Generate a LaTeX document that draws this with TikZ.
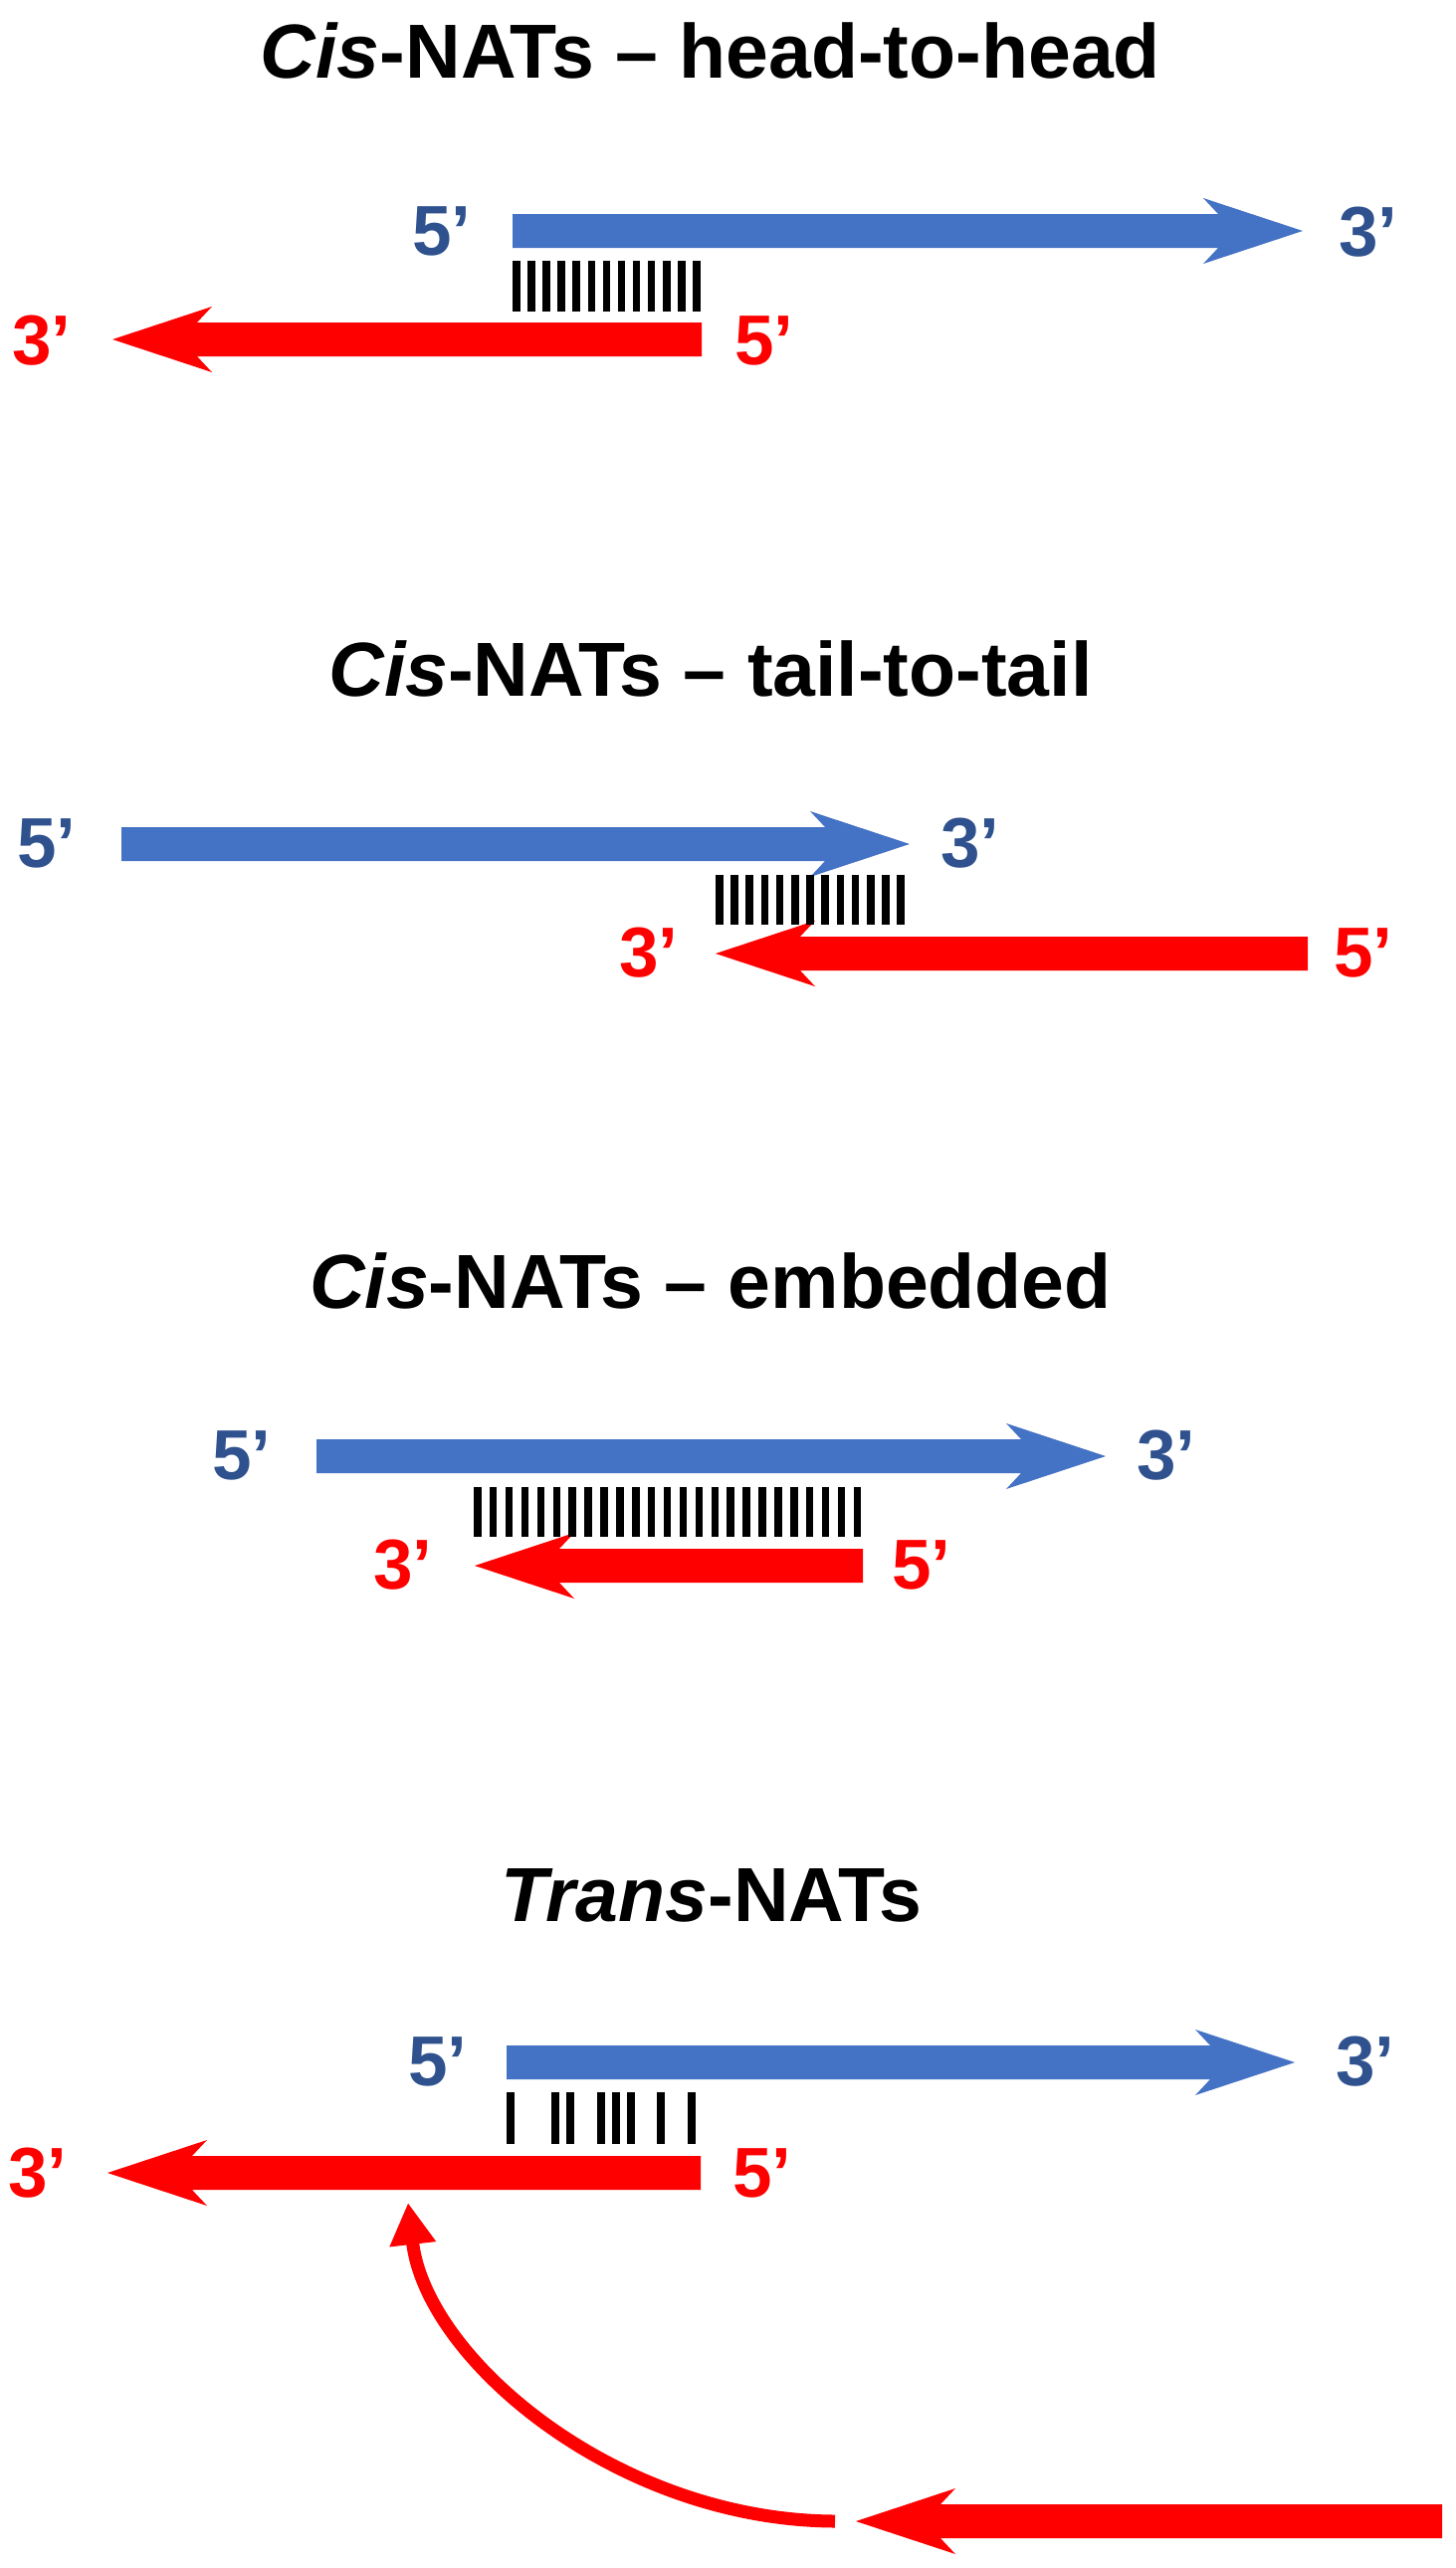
\documentclass[tikz,border=0pt]{standalone}
\usepackage{fontspec}
\setmainfont{Liberation Sans}
\usetikzlibrary{arrows.meta}
\definecolor{arrowblue}{HTML}{4472C4}
\definecolor{labelblue}{HTML}{2F528F}
\definecolor{natred}{HTML}{FF0000}
\newcommand{\natArrowRight}[4]{\fill[#1] (#2,{#4-17}) -- ({#3-85},{#4-17}) -- ({#3-100},{#4-33}) -- (#3,#4) -- ({#3-100},{#4+33}) -- ({#3-85},{#4+17}) -- (#2,{#4+17}) -- cycle;}
\newcommand{\natArrowLeft}[4]{\fill[#1] (#3,{#4-17}) -- ({#2+85},{#4-17}) -- ({#2+100},{#4-33}) -- (#2,#4) -- ({#2+100},{#4+33}) -- ({#2+85},{#4+17}) -- (#3,{#4+17}) -- cycle;}
\tikzset{
  titletext/.style={font=\fontsize{38.5}{46}\selectfont\bfseries, inner sep=0, anchor=center},
  bluelabel/.style={font=\fontsize{35.5}{42}\selectfont\bfseries, text=labelblue, inner sep=0, anchor=center},
  redlabel/.style={font=\fontsize{35.5}{42}\selectfont\bfseries, text=natred, inner sep=0, anchor=center},
  bond/.style={fill=black},
  transcurve/.style={draw=natred, line width=6.5pt, -{Triangle[length=21pt,width=22pt]}}
}
\begin{document}
\begin{tikzpicture}[x=0.5pt,y=-0.5pt]
\useasboundingbox (0,0) rectangle (1462,2580);

% ---------- Panel 1: head-to-head ----------
\node[titletext] (t1) at (714,51) {\textit{Cis}-NATs – head-to-head};
\natArrowRight{arrowblue}{515}{1309}{232}
\natArrowLeft{natred}{113}{705}{341}
\foreach \i in {0,...,12} \fill[bond] ({515+\i*15.1},262) rectangle ++(7.5,51);
\node[bluelabel] (b1a) at (444,232) {5’};
\node[bluelabel] (b1b) at (1375,233) {3’};
\node[redlabel] (r1a) at (42,342) {3’};
\node[redlabel] (r1b) at (768,342) {5’};

% ---------- Panel 2: tail-to-tail ----------
\node[titletext] (t2) at (714,672) {\textit{Cis}-NATs – tail-to-tail};
\natArrowRight{arrowblue}{122}{914}{848}
\natArrowLeft{natred}{719}{1314}{958}
\foreach \i in {0,...,12} \fill[bond] ({719+\i*15.2},879) rectangle ++(7.5,50);
\node[bluelabel] (b2a) at (47,847) {5’};
\node[bluelabel] (b2b) at (975,847) {3’};
\node[redlabel] (r2a) at (652,957) {3’};
\node[redlabel] (r2b) at (1370,957) {5’};

% ---------- Panel 3: embedded ----------
\node[titletext] (t3) at (714,1287) {\textit{Cis}-NATs – embedded};
\natArrowRight{arrowblue}{318}{1111}{1463}
\natArrowLeft{natred}{477}{867}{1573}
\foreach \i in {0,...,24} \fill[bond] ({476+\i*15.9},1494) rectangle ++(7.5,50);
\node[bluelabel] (b3a) at (243,1462) {5’};
\node[bluelabel] (b3b) at (1172,1462) {3’};
\node[redlabel] (r3a) at (405,1572) {3’};
\node[redlabel] (r3b) at (926,1572) {5’};

% ---------- Panel 4: trans ----------
\node[titletext] (t4) at (715,1904) {\textit{Trans}-NATs};
\natArrowRight{arrowblue}{509}{1301}{2072}
\natArrowLeft{natred}{108}{704}{2183}
\foreach \x in {509,554,569,600,615,630,660,691} \fill[bond] (\x,2102) rectangle ++(8,52);
\node[bluelabel] (b4a) at (440,2071) {5’};
\node[bluelabel] (b4b) at (1372,2071) {3’};
\node[redlabel] (r4a) at (38,2183) {3’};
\node[redlabel] (r4b) at (766,2183) {5’};

% distant transcript and its path
\natArrowLeft{natred}{860}{1449}{2533}
\coordinate (src) at (839,2533);
\coordinate (dst) at (410,2213);
\draw[transcurve] (src) .. controls (620,2532) and (428,2370) .. (dst);
\end{tikzpicture}
\end{document}
